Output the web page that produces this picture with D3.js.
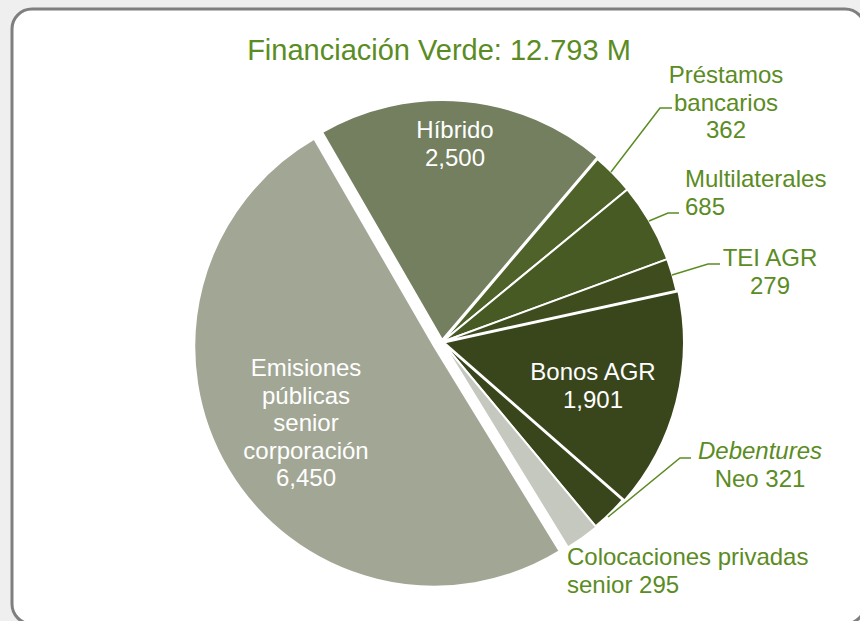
<!DOCTYPE html>
<html>
<head>
<meta charset="utf-8">
<script src="https://cdn.jsdelivr.net/npm/d3@7"></script>
<style>
  body { margin: 0; background: #efefef; }
  svg { display: block; font-family: "Liberation Sans", Arial, sans-serif; }
</style>
</head>
<body>
<div id="chart"></div>
<script>
// data
const categories = ['Híbrido', 'Préstamos bancarios', 'Multilaterales', 'TEI AGR', 'Bonos AGR',
    'Debentures Neo', 'Colocaciones privadas senior', 'Emisiones públicas senior corporación'];
const values = [2500, 362, 685, 279, 1901, 321, 295, 6450];
const colors = ['#737f5f', '#4e6229', '#485a24', '#3e4c1e', '#39461b', '#39461b', '#c5c8be', '#a2a795'];
const explode = [2, 0, 0, 0, 2, 0, 1, 9];
const title = 'Financiación Verde: 12.793 M';

const width = 860, height = 621;
const green = '#5b8c23';

function drawChart() {
    let svg = d3.select('#chart').append('svg')
        .attr('width', width)
        .attr('height', height);

    // frame
    svg.append('rect')
        .attr('x', 12).attr('y', 9)
        .attr('width', 853).attr('height', 615)
        .attr('rx', 20)
        .attr('fill', '#fff')
        .attr('stroke', '#7f7f7f')
        .attr('stroke-width', 3);

    svg.append('text')
        .attr('x', 439).attr('y', 60)
        .attr('text-anchor', 'middle')
        .attr('font-size', 29)
        .attr('fill', green)
        .text(title);

    drawPie(svg);
    drawLabels(svg);
}

function drawPie(svg) {
    let cx = 442, cy = 342, r = 240;
    let data = categories.map((c, i) => ({ name: c, value: values[i], color: colors[i], off: explode[i] }));

    let pie = d3.pie()
        .sort(null)
        .value(d => d.value)
        .startAngle(-Math.PI / 6)
        .endAngle(2 * Math.PI - Math.PI / 6);

    let arc = d3.arc().innerRadius(0).outerRadius(r);

    let g = svg.append('g').attr('transform', `translate(${cx},${cy})`);
    g.selectAll('path')
        .data(pie(data))
        .enter()
        .append('path')
        .attr('d', arc)
        .attr('fill', d => d.data.color)
        .attr('stroke', '#fff')
        .attr('stroke-width', 2)
        .attr('stroke-linejoin', 'round')
        .attr('transform', d => {
            let mid = (d.startAngle + d.endAngle) / 2;
            return `translate(${Math.sin(mid) * d.data.off},${-Math.cos(mid) * d.data.off})`;
        });
}

function drawLabels(svg) {
    let fs = 24, lh = 27.5;
    // labels inside slices
    let inside = [
        { lines: ['Híbrido', '2,500'], x: 455, y: 138 },
        { lines: ['Bonos AGR', '1,901'], x: 593, y: 380 },
        { lines: ['Emisiones', 'públicas', 'senior', 'corporación', '6,450'], x: 306, y: 376 }
    ];
    inside.forEach(l => {
        let t = svg.append('text')
            .attr('text-anchor', 'middle')
            .attr('font-size', fs)
            .attr('fill', '#fff');
        l.lines.forEach((s, i) => t.append('tspan').attr('x', l.x).attr('y', l.y + i * lh).text(s));
    });

    // labels outside
    let outside = [
        { lines: ['Préstamos', 'bancarios', '362'], x: 726, y: 83, anchor: 'middle' },
        { lines: ['Multilaterales', '685'], x: 685, y: 187, anchor: 'start' },
        { lines: ['TEI AGR', '279'], x: 770, y: 266, anchor: 'middle' },
        { lines: ['Debentures', 'Neo 321'], x: 760, y: 459, anchor: 'middle', italic: 0 },
        { lines: ['Colocaciones privadas', 'senior 295'], x: 567, y: 565, anchor: 'start' }
    ];
    outside.forEach(l => {
        let t = svg.append('text')
            .attr('text-anchor', l.anchor)
            .attr('font-size', fs)
            .attr('fill', green);
        l.lines.forEach((s, i) => t.append('tspan')
            .attr('x', l.x).attr('y', l.y + i * lh)
            .attr('font-style', l.italic === i ? 'italic' : null)
            .text(s));
    });

    // leader lines
    let leaders = [
        [[611, 172], [660, 108], [672, 108]],
        [[649, 221], [668, 213], [679, 213]],
        [[672, 275], [708, 264], [720, 264]],
        [[608, 517], [680, 458], [691, 458]]
    ];
    svg.selectAll('.leader')
        .data(leaders)
        .enter()
        .append('path')
        .attr('class', 'leader')
        .attr('d', d3.line())
        .attr('fill', 'none')
        .attr('stroke', green)
        .attr('stroke-width', 1.5);
}

drawChart();
</script>
</body>
</html>
